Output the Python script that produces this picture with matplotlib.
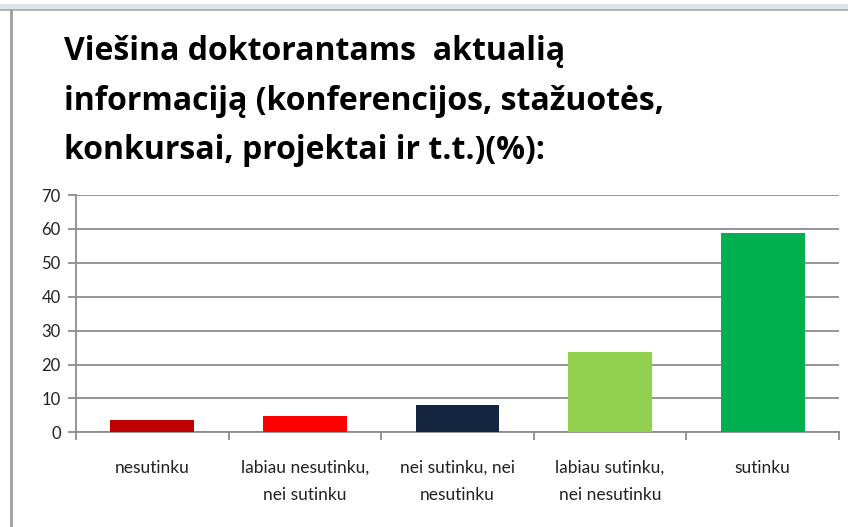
import numpy as np
import matplotlib.pyplot as plt
from matplotlib.lines import Line2D
from matplotlib.patches import Rectangle

categories = ["nesutinku", "labiau nesutinku,\nnei sutinku", "nei sutinku, nei\nnesutinku",
              "labiau sutinku,\nnei nesutinku", "sutinku"]
values = [3.5, 4.7, 8.2, 23.7, 58.7]
colors = ["#C00000", "#FF0000", "#13253F", "#92D050", "#00B050"]
y_ticks = [0, 10, 20, 30, 40, 50, 60, 70]
title = "Viešina doktorantams  aktualią\ninformaciją (konferencijos, stažuotės,\nkonkursai, projektai ir t.t.)(%):"

W, H = 848, 527
fig = plt.figure(figsize=(W / 100, H / 100), dpi=100)

# frame bits from the spreadsheet screenshot
fig.patches.append(Rectangle((0, 1 - 9.5 / H), 1, 5.5 / H, transform=fig.transFigure,
                             facecolor="#dfe3ea", edgecolor="none"))
fig.lines.append(Line2D([0, 1], [1 - 9.5 / H] * 2, transform=fig.transFigure, color="#a8a8a8", lw=1.2))
fig.lines.append(Line2D([11 / W] * 2, [0, 1 - 10 / H], transform=fig.transFigure, color="#a0a0a0", lw=2))

ax = fig.add_axes([76 / W, 1 - 432.3 / H, (839 - 76) / W, (432.3 - 195) / H])
x = np.arange(len(categories))
ax.bar(x, values, width=0.55, color=colors, zorder=3)

ax.set_xlim(-0.5, len(categories) - 0.5)
ax.set_ylim(0, 70)
ax.set_yticks(y_ticks)
ax.set_yticklabels([str(v) for v in y_ticks], fontsize=12, family="Lato", color="#222222")
ax.yaxis.grid(True, color="#8c8c8c", lw=1.3, zorder=0)

ax.set_xticks(np.arange(-0.5, len(categories)), minor=False)
ax.set_xticklabels([])
ax.set_xticks(x, minor=True)
ax.set_xticklabels(categories, minor=True, fontsize=12.5, family="Lato", color="#222222", linespacing=1.85)
ax.tick_params(axis="x", which="major", length=6, width=1.3, color="#8c8c8c", direction="out")
ax.tick_params(axis="x", which="minor", length=0, pad=20)
ax.tick_params(axis="y", length=6, width=1.3, color="#8c8c8c", pad=5)

for s in ["top", "right"]:
    ax.spines[s].set_visible(False)
for s in ["left", "bottom"]:
    ax.spines[s].set_color("#8c8c8c")
    ax.spines[s].set_linewidth(1.3)

fig.text(64 / W, 1 - 35 / H, title, ha="left", va="top", fontsize=23, fontweight="bold",
         family="Open Sans", linespacing=1.66, color="black")

fig.savefig("out.png", dpi=100)
